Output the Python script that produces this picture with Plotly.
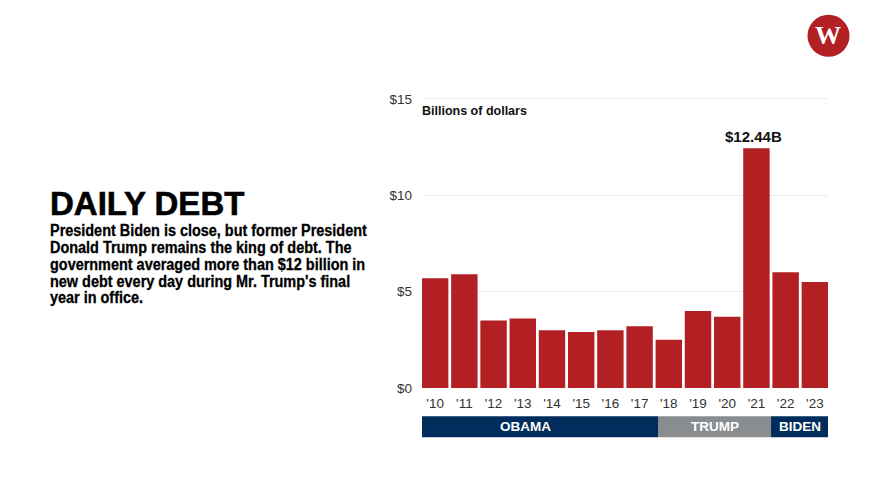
import plotly.graph_objects as go

years = list(range(2010, 2024))
year_labels = ["'10", "'11", "'12", "'13", "'14", "'15", "'16", "'17", "'18", "'19", "'20", "'21", "'22", "'23"]
daily_debt = [5.7, 5.9, 3.5, 3.6, 3.0, 2.9, 3.0, 3.2, 2.5, 4.0, 3.7, 12.44, 6.0, 5.5]
y_ticks = [0, 5, 10, 15]
y_labels = ["$0", "$5", "$10", "$15"]
era_names = ["OBAMA", "TRUMP", "BIDEN"]
era_starts = [2009.55, 2017.63, 2021.5]
era_ends = [2017.63, 2021.5, 2023.45]
era_label_x = [2013.08, 2019.565, 2022.475]
era_colors = ["#002d5c", "#8a8d8f", "#002d5c"]

RED = "#b22024"
SANS = "Liberation Sans, Arial, sans-serif"

fig = go.Figure(go.Bar(x=years, y=daily_debt, width=0.905, marker=dict(color=RED, line_width=0),
                       hoverinfo="skip"))

shapes = []
annotations = []
for name, s, e, lx, c in zip(era_names, era_starts, era_ends, era_label_x, era_colors):
    shapes.append(dict(type="rect", xref="x", yref="paper", x0=s, x1=e, y0=-0.1695, y1=-0.097,
                       fillcolor=c, line_width=0, layer="above"))
    annotations.append(dict(x=lx, xref="x", y=-0.1332, yref="paper", text=f"<b>{name}</b>", showarrow=False,
                            font=dict(family=SANS, size=13.5, color="white"), xanchor="center", yanchor="middle"))

# logo
shapes.append(dict(type="circle", xref="paper", yref="paper", x0=0.9495, x1=1.053, y0=1.138, y1=1.2827,
                   fillcolor=RED, line_width=0))
annotations += [
    dict(x=1.0012, y=1.21, xref="paper", yref="paper", text="<b>W</b>", showarrow=False,
         font=dict(family="Liberation Serif, serif", size=26, color="white"), xanchor="center", yanchor="middle"),
    dict(x=0, y=0.951, xref="paper", yref="paper", text="<b>Billions of dollars</b>", showarrow=False, xshift=-2,
         font=dict(family=SANS, size=12.5, color="#111111"), xanchor="left", yanchor="middle"),
    dict(x=years[daily_debt.index(max(daily_debt))], y=max(daily_debt), yref="y", text="<b>$12.44B</b>", showarrow=False,
         yshift=12, xshift=-3, font=dict(family=SANS, size=15, color="#111111"), xanchor="center", yanchor="middle"),
]

# headline + body
HEAD_X = -0.922
annotations.append(dict(x=HEAD_X, y=0.634, xref="paper", yref="paper", text="DAILY DEBT", showarrow=False,
                        font=dict(family=SANS, size=33, color="black", weight=700), xanchor="left", yanchor="middle"))
body = ["President Biden is close, but former President",
        "Donald Trump remains the king of debt. The",
        "government averaged more than $12 billion in",
        "new debt every day during Mr. Trump's final",
        "year in office."]
for i, line in enumerate(body):
    annotations.append(dict(x=HEAD_X, y=0.541 - i * 0.0578, xref="paper", yref="paper", text=line,
                            showarrow=False, font=dict(family=SANS, size=16, color="black", weight=700),
                            xanchor="left", yanchor="middle"))

fig.update_layout(
    width=878, height=494, margin=dict(l=422, r=50, t=97, b=106),
    paper_bgcolor="white", plot_bgcolor="white", showlegend=False,
    shapes=shapes, annotations=annotations,
    xaxis=dict(range=[2009.55, 2023.45], tickmode="array", tickvals=years, ticktext=year_labels,
               showgrid=False, zeroline=False, showline=False, ticks="", ticklabelstandoff=5,
               tickfont=dict(family=SANS, size=13.5, color="#333333")),
    yaxis=dict(range=[0, 15.1], tickmode="array", tickvals=y_ticks, ticktext=y_labels,
               showgrid=True, gridcolor="#eeeeee", gridwidth=1, zeroline=False, showline=False,
               ticks="", ticklabelstandoff=9, tickfont=dict(family=SANS, size=13.5, color="#333333")),
)
# The reference body copy is set in a heavy condensed face; none is installed, so narrow and thicken the real text.
post = """
document.body.style.margin = '0';
document.querySelectorAll('.annotation-text').forEach(function (t) {
  var s = t.textContent;
  if (s === 'DAILY DEBT') {
    t.style.stroke = 'black';
    t.style.strokeWidth = '0.6px';
  } else if (s.length > 12 && s.indexOf('Billions') < 0) {
    var w = t.getComputedTextLength();
    var b = t.getBBox();
    t.setAttribute('text-anchor', 'start');
    t.setAttribute('x', b.x);
    t.setAttribute('lengthAdjust', 'spacingAndGlyphs');
    t.setAttribute('textLength', w * 0.902);
    t.style.stroke = 'black';
    t.style.strokeWidth = '0.3px';
  }
});
"""
fig.write_html("out.html", config=dict(displayModeBar=False), post_script=post)
